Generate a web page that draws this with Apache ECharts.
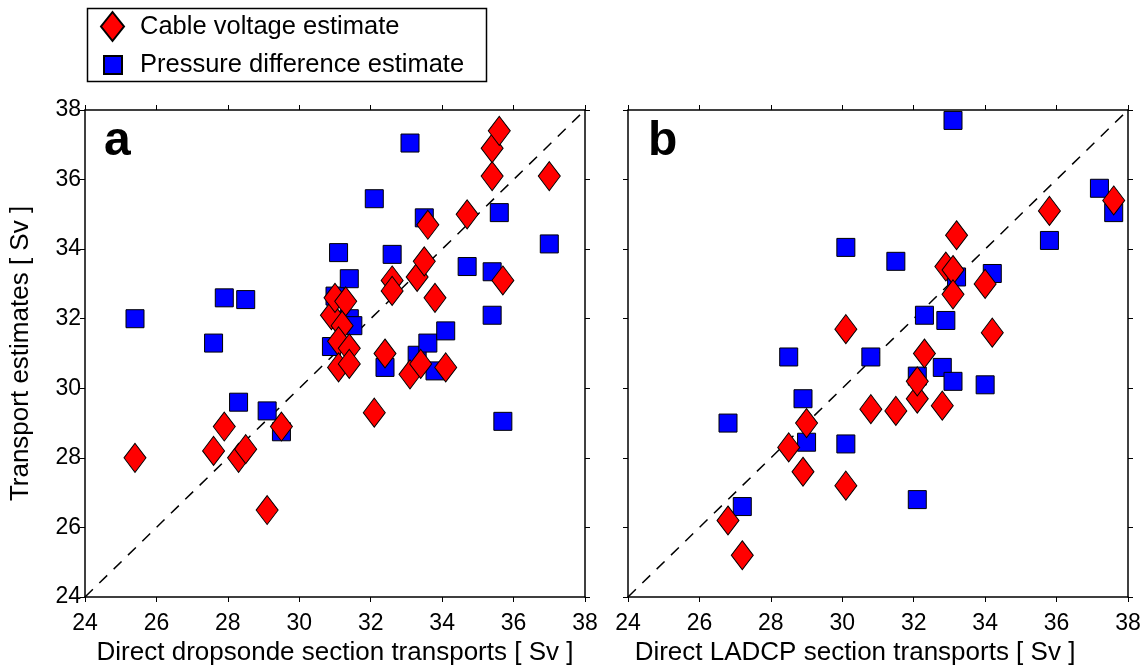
<!DOCTYPE html>
<html>
<head>
<meta charset="utf-8">
<script src="https://cdn.jsdelivr.net/npm/echarts@6/dist/echarts.min.js"></script>
<style>
  html, body { margin: 0; padding: 0; background: #fff; }
  #chart { width: 1148px; height: 670px; }
</style>
</head>
<body>
<div id="chart"></div>
<script>
// panel a: dropsonde sections
var aVoltX = [25.4, 27.6, 27.9, 28.3, 28.5, 29.1, 29.5, 30.9, 31.0, 31.3, 31.2, 31.1, 31.4, 31.1, 31.4, 32.1,
              32.4, 32.6, 32.6, 33.1, 33.4, 33.3, 33.5, 33.6, 33.8, 34.1, 34.7, 35.4, 35.4, 35.6, 35.7, 37.0];
var aVoltY = [28.0, 28.2, 28.9, 28.0, 28.25, 26.5, 28.9, 32.1, 32.6, 32.5, 31.8, 31.35, 31.15, 30.6, 30.7, 29.3,
              31.0, 33.1, 32.8, 30.4, 30.7, 33.2, 33.65, 34.7, 32.6, 30.6, 35.0, 36.1, 36.9, 37.4, 33.1, 36.1];
var aPresX = [25.4, 27.6, 27.9, 28.5, 28.3, 29.1, 29.5, 30.9, 31.0, 31.4, 31.5, 31.1, 31.4, 32.1,
              32.4, 32.6, 33.1, 33.3, 33.5, 33.6, 33.8, 34.1, 34.7, 35.4, 35.4, 35.6, 35.7, 37.0];
var aPresY = [32.0, 31.3, 32.6, 32.55, 29.6, 29.35, 28.75, 31.2, 32.65, 32.0, 31.8, 33.9, 33.15, 35.45,
              30.6, 33.85, 37.05, 30.95, 34.9, 31.3, 30.5, 31.65, 33.5, 33.35, 32.1, 35.05, 29.05, 34.15];

// panel b: LADCP sections
var bVoltX = [26.8, 27.2, 28.5, 28.9, 29.0, 30.1, 30.1, 30.8, 31.5, 32.1, 32.1, 32.3, 32.8, 32.9, 33.1, 33.1,
              33.2, 34.0, 34.2, 35.8, 37.6];
var bVoltY = [26.2, 25.2, 28.3, 27.6, 29.0, 27.2, 31.7, 29.4, 29.35, 29.7, 30.2, 31.0, 29.5, 33.5, 33.4, 32.7,
              34.4, 33.0, 31.6, 35.1, 35.4];
var bPresX = [26.8, 27.2, 28.5, 28.9, 29.0, 30.1, 30.1, 30.8, 31.5, 32.1, 32.1, 32.3, 32.8, 32.9, 33.1, 33.1,
              33.2, 34.0, 34.2, 35.8, 37.2, 37.6];
var bPresY = [29.0, 26.6, 30.9, 29.7, 28.45, 28.4, 34.05, 30.9, 33.65, 30.35, 26.8, 32.1, 30.6, 31.95, 30.2, 37.7,
              33.2, 30.1, 33.3, 34.25, 35.75, 35.05];

var oneToOne = [[24, 24], [38, 38]];
var axisMin = 24, axisMax = 38, axisStep = 2;

var FONT = "'Liberation Sans', Arial, sans-serif";

function pts(xs, ys) {
    return xs.map(function (x, i) { return [x, ys[i]]; });
}

function mkAxis(pos, gridIndex, showLabel, name) {
    var isY = pos === 'left' || pos === 'right';
    return {
        type: 'value', gridIndex: gridIndex, position: pos,
        min: axisMin, max: axisMax, interval: axisStep,
        name: name || '', nameLocation: 'middle',
        axisLine: { show: true, onZero: false, lineStyle: { color: '#000', width: 1.5 } },
        axisTick: { show: true, inside: false, length: 5, lineStyle: { color: '#000', width: 1 } },
        axisLabel: { show: showLabel, color: '#000', fontSize: 23, fontFamily: FONT, margin: isY ? 4 : 15 },
        splitLine: { show: false }
    };
}

var xa0 = mkAxis('bottom', 0, true, 'Direct dropsonde section transports [ Sv ]');
xa0.nameGap = 34; xa0.nameTextStyle = { color: '#000', fontSize: 26, fontFamily: FONT };
var xa2 = mkAxis('bottom', 1, true, 'Direct LADCP section transports [ Sv ]');
xa2.nameGap = 34; xa2.nameTextStyle = { color: '#000', fontSize: 26, fontFamily: FONT, padding: [0, 46, 0, 0] };
var ya0 = mkAxis('left', 0, true, 'Transport estimates [ Sv ]');
ya0.nameGap = 51; ya0.nameTextStyle = { color: '#000', fontSize: 26, fontFamily: FONT };

var diamondStyle = { color: '#ff0000', borderColor: '#000', borderWidth: 1, opacity: 1 };
var squareStyle = { color: '#0000ff', borderColor: '#000', borderWidth: 1, opacity: 1 };

function scatter(name, data, g, sym) {
    var isD = sym === 'diamond';
    return {
        name: name, type: 'scatter', xAxisIndex: g * 2, yAxisIndex: g * 2,
        symbol: isD ? 'diamond' : 'rect',
        symbolSize: isD ? [22, 29] : [18, 18],
        itemStyle: isD ? diamondStyle : squareStyle,
        z: isD ? 4 : 3,
        emphasis: { disabled: true },
        data: data
    };
}

function diag(g) {
    return {
        type: 'line', xAxisIndex: g * 2, yAxisIndex: g * 2, data: oneToOne,
        symbol: 'none', silent: true, z: 2,
        lineStyle: { color: '#000', width: 1.5, type: [11, 9] }
    };
}

var chart = echarts.init(document.getElementById('chart'));
var option = {
    animation: false,
    backgroundColor: '#fff',
    textStyle: { fontFamily: FONT },
    grid: [
        { left: 85, top: 110, width: 500, height: 487, containLabel: false, outerBoundsMode: 'none' },
        { left: 628, top: 110, width: 500, height: 487, containLabel: false, outerBoundsMode: 'none' }
    ],
    title: [
        { text: 'a', left: 99, top: 113, textStyle: { fontSize: 48, fontWeight: 'bold', color: '#000', fontFamily: FONT } },
        { text: 'b', left: 643, top: 113, textStyle: { fontSize: 48, fontWeight: 'bold', color: '#000', fontFamily: FONT } }
    ],
    legend: [
        {
            left: 100, top: 11, padding: 0, itemWidth: 23, itemHeight: 29,
            data: [{ name: 'Cable voltage estimate', icon: 'diamond' }],
            textStyle: { color: '#000', fontSize: 25.5, fontFamily: FONT, padding: [0, 0, 0, 11] },
            selectedMode: false
        },
        {
            left: 103, top: 52, padding: 0, itemWidth: 18, itemHeight: 18,
            data: [{ name: 'Pressure difference estimate', icon: 'rect' }],
            textStyle: { color: '#000', fontSize: 25.5, fontFamily: FONT, padding: [0, 0, 0, 13] },
            selectedMode: false
        }
    ],
    graphic: [
        { type: 'rect', left: 85, top: 6, shape: { width: 399, height: 73 }, style: { fill: 'none', stroke: '#000', lineWidth: 1.5 } }
    ],
    xAxis: [
        xa0,
        mkAxis('top', 0, false),
        xa2,
        mkAxis('top', 1, false)
    ],
    yAxis: [
        ya0,
        mkAxis('right', 0, false),
        mkAxis('left', 1, false),
        mkAxis('right', 1, false)
    ],
    series: [
        diag(0),
        scatter('Pressure difference estimate', pts(aPresX, aPresY), 0, 'rect'),
        scatter('Cable voltage estimate', pts(aVoltX, aVoltY), 0, 'diamond'),
        diag(1),
        scatter('Pressure difference estimate', pts(bPresX, bPresY), 1, 'rect'),
        scatter('Cable voltage estimate', pts(bVoltX, bVoltY), 1, 'diamond')
    ]
};
chart.setOption(option);
</script>
</body>
</html>
